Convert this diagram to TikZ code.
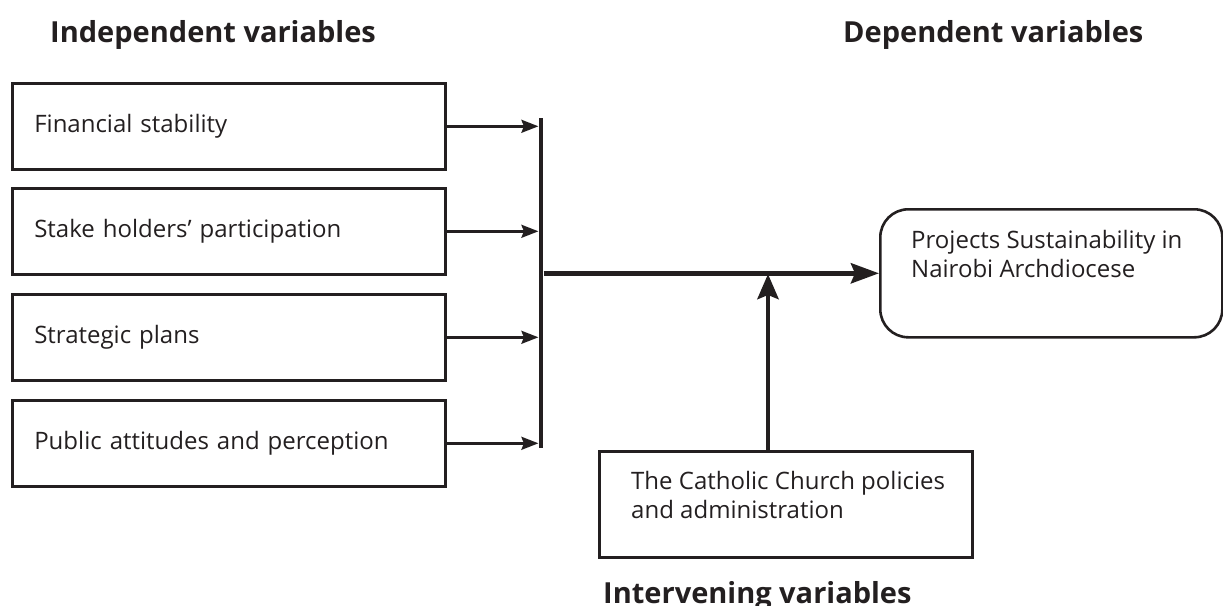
\documentclass[tikz,border=0pt]{standalone}
\usepackage{fontspec}
\setmainfont{Open Sans}
\usetikzlibrary{arrows.meta}
\definecolor{ink}{RGB}{35,31,32}
\begin{document}
\begin{tikzpicture}[x=1pt,y=-1pt, every node/.style={text=ink}, ink,
  box/.style={draw=ink, line width=2.6pt, minimum width=433pt, minimum height=86pt,
    text width=389pt, inner xsep=22pt, inner ysep=0pt, align=left, anchor=north west,
    font=\fontsize{24}{28.5}\selectfont},
  frame/.style={draw=ink, line width=2.6pt, inner sep=0pt, anchor=north west},
  txt/.style={font=\fontsize{24}{28.5}\selectfont, anchor=base west, align=left, inner sep=0pt},
  hdr/.style={font=\fontsize{29}{34}\selectfont\bfseries, anchor=base west, inner sep=0pt},
  thinarrow/.style={line width=2.4pt, -{Stealth[length=17pt,width=13pt,inset=2.5pt]}},
  thickarrow/.style={line width=4.8pt, -{Stealth[length=28pt,width=20pt,inset=4pt]}},
  uparrow/.style={line width=4.8pt, -{Stealth[length=25pt,width=21pt,inset=4pt]}}
]
\useasboundingbox (0,0) rectangle (1223,605);

\node[hdr] (hind) at (50,42) {Independent variables};
\node[hdr] (hdep) at (843,42) {Dependent variables};
\node[hdr] (hint) at (603,603) {Intervening variables};

\node[box] (b1) at (11,82)  {Financial stability};
\node[box] (b2) at (11,187) {Stake holders’ participation};
\node[box] (b3) at (11,293) {Strategic plans};
\node[box] (b4) at (11,399) {Public attitudes and perception};

\node[fill=ink, minimum width=4.8pt, minimum height=330pt, inner sep=0pt] (bar) at (541,283) {};

\foreach \b in {b1,b2,b3,b4}
  \draw[thinarrow] (\b.east) -- (\b.east -| bar.west);

\node[frame, rounded corners=28pt, minimum width=342pt, minimum height=128pt] (dep) at (879,208) {};
\node[txt] (deptext) at (911,277) {Projects Sustainability in\\Nairobi Archdiocese};

\node[frame, minimum width=373pt, minimum height=106pt] (int) at (598,450) {};
\node[txt] (inttext) at (631,518) {The Catholic Church policies\\and administration};

\draw[thickarrow] (bar.east |- dep.west) -- (dep.west);
\coordinate (m) at (768,274);
\draw[uparrow] (int.north -| m) -- (m);
\end{tikzpicture}
\end{document}
